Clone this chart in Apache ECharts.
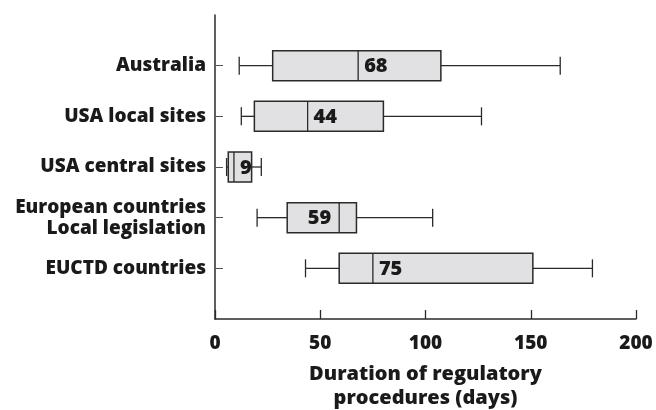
<!DOCTYPE html>
<html>
<head>
<meta charset="utf-8">
<script src="https://cdn.jsdelivr.net/npm/echarts@6/dist/echarts.min.js"></script>
<style>
  html, body { margin: 0; padding: 0; background: #fff; }
  #chart { width: 656px; height: 410px; }
</style>
</head>
<body>
<div id="chart"></div>
<script>
// categories, bottom to top (blank ends pad the axis)
var categories = ["", "EUCTD countries", "European countries\nLocal legislation", "USA central sites", "USA local sites", "Australia", ""];
// box stats per category index: min, q1, median, q3, max
var catIndex = [1, 2, 3, 4, 5];
var lows = [43, 20, 5.5, 12.5, 11.5];
var q1s = [59, 34.3, 6.3, 18.7, 27.4];
var medians = [75, 59, 9, 44, 68];
var q3s = [151, 67.2, 17.4, 80, 107.3];
var highs = [179.3, 103.4, 22, 126.6, 164];
var medianLabels = ["75", "59", "9", "44", "68"];
var labelSide = ["right", "left", "right", "right", "right"];
var xTicks = [0, 50, 100, 150, 200];

var boxData = catIndex.map(function (c, i) {
  return [c, lows[i], q1s[i], medians[i], q3s[i], highs[i]];
});

var font = "'Open Sans', sans-serif";
var dark = "#2a2a2a";
var ink = "#1a1a1a";

function renderBox(params, api) {
  var i = params.dataIndex;
  var c = api.value(0);
  var pLow = api.coord([api.value(1), c]);
  var pQ1 = api.coord([api.value(2), c]);
  var pMed = api.coord([api.value(3), c]);
  var pQ3 = api.coord([api.value(4), c]);
  var pHigh = api.coord([api.value(5), c]);
  var y = pMed[1];
  var bh = 30, ch = 9;
  var side = labelSide[i];
  var ls = { stroke: dark, lineWidth: 1.3 };
  return {
    type: "group",
    children: [
      { type: "line", shape: { x1: pLow[0], y1: y, x2: pQ1[0], y2: y }, style: ls },
      { type: "line", shape: { x1: pQ3[0], y1: y, x2: pHigh[0], y2: y }, style: ls },
      { type: "line", shape: { x1: pLow[0], y1: y - ch, x2: pLow[0], y2: y + ch }, style: ls },
      { type: "line", shape: { x1: pHigh[0], y1: y - ch, x2: pHigh[0], y2: y + ch }, style: ls },
      { type: "rect", shape: { x: pQ1[0], y: y - bh / 2, width: pQ3[0] - pQ1[0], height: bh },
        style: { fill: "#e1e1e3", stroke: dark, lineWidth: 1.5 } },
      { type: "line", shape: { x1: pMed[0], y1: y - bh / 2, x2: pMed[0], y2: y + bh / 2 }, style: ls },
      { type: "text", x: side === "right" ? pMed[0] + 6 : pMed[0] - 8, y: y + 1,
        style: { text: medianLabels[i], fill: ink, font: "800 20px " + font,
          align: side === "right" ? "left" : "right", verticalAlign: "middle" } }
    ]
  };
}

var chart = echarts.init(document.getElementById("chart"));
chart.setOption({
  animation: false,
  backgroundColor: "#fff",
  grid: { left: 215, right: 20, top: 15, bottom: 91, outerBoundsContain: "axisLabel" },
  xAxis: {
    type: "value",
    min: 0, max: 200, interval: 50,
    position: "bottom",
    name: "Duration of regulatory\nprocedures (days)",
    nameLocation: "middle",
    nameGap: 43,
    nameTextStyle: { fontFamily: font, fontWeight: 800, fontSize: 20, color: ink, lineHeight: 24, verticalAlign: "top" },
    axisLine: { show: true, onZero: false, lineStyle: { color: dark, width: 1.5 } },
    axisTick: { show: true, inside: true, length: 9, lineStyle: { color: dark, width: 1.3 } },
    axisLabel: { fontFamily: font, fontWeight: 800, fontSize: 19, color: ink, margin: 15,
      formatter: function (v) { return xTicks.indexOf(v) >= 0 ? String(v) : ""; } },
    splitLine: { show: false }
  },
  yAxis: {
    type: "category",
    data: categories,
    boundaryGap: false,
    position: "left",
    axisLine: { show: true, onZero: false, lineStyle: { color: dark, width: 1.5 } },
    axisTick: { inside: true, length: 8, lineStyle: { color: "#555", width: 1 },
      interval: function (idx, val) { return val !== ""; } },
    axisLabel: { fontFamily: font, fontWeight: 800, fontSize: 19, color: ink, margin: 9,
      lineHeight: 21, align: "right", padding: [3, 0, 0, 0] },
    splitLine: { show: false }
  },
  series: [{
    type: "custom",
    renderItem: renderBox,
    data: boxData,
    encode: { x: [1, 2, 3, 4, 5], y: 0 }
  }]
});
</script>
</body>
</html>
